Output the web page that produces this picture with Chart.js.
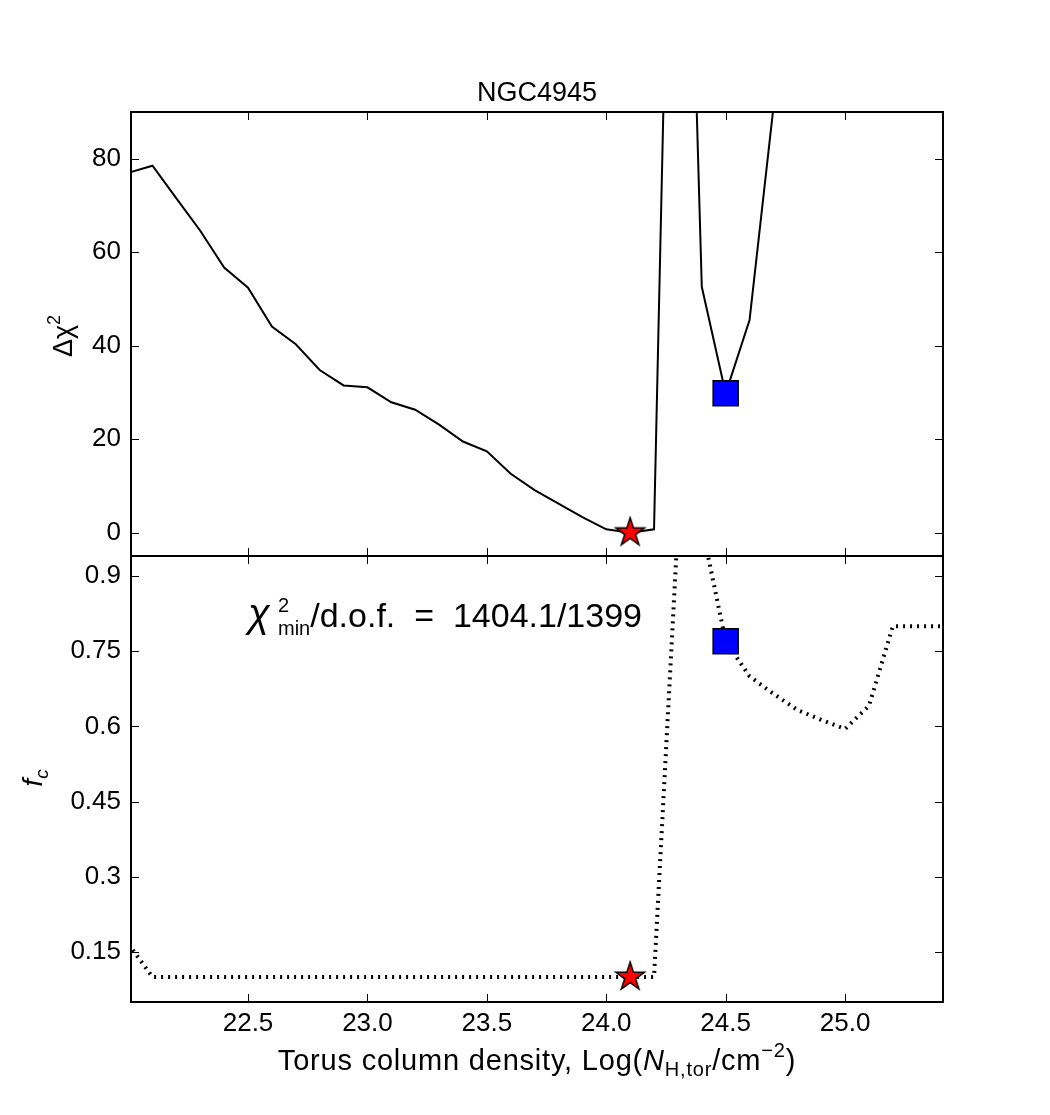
<!DOCTYPE html>
<html><head><meta charset="utf-8">
<script src="https://cdn.jsdelivr.net/npm/chart.js@4.4.1/dist/chart.umd.min.js"></script>
<style>
html,body{margin:0;padding:0;background:#fff;width:1050px;height:1115px;overflow:hidden;}
canvas{position:absolute;left:0;}
#c1{top:0;}
#c2{top:540px;}
</style></head><body>
<canvas id="c1" width="1050" height="557"></canvas>
<canvas id="c2" width="1050" height="575"></canvas>
<script>
// ---------------- data ----------------
const logNH = [22.0,22.1,22.2,22.3,22.4,22.5,22.6,22.7,22.8,22.9,23.0,23.1,23.2,23.3,23.4,23.5,23.6,23.7,23.8,23.9,24.0,24.1,24.2,24.3,24.4,24.5,24.6,24.7,24.8,24.9,25.0,25.1,25.2,25.3,25.4];
const deltaChi2 = [77.0,78.5,71.5,64.6,56.7,52.4,44.1,40.3,34.8,31.5,31.1,27.9,26.3,23.1,19.5,17.4,12.6,9.1,6.2,3.3,0.7,0.0,0.7,230,52.6,29.8,45.5,91,null,null,null,null,null,null,null];
const coveringFactor = [0.165,0.1,0.1,0.1,0.1,0.1,0.1,0.1,0.1,0.1,0.1,0.1,0.1,0.1,0.1,0.1,0.1,0.1,0.1,0.1,0.1,0.1,0.1,1.0,1.0,0.77,0.70,0.665,0.633,0.613,0.595,0.641,0.80,0.80,0.80];
const bestLogNH = [24.1];
const bestDeltaChi2 = [0];
const bestFc = [0.1];
const altLogNH = [24.5];
const altDeltaChi2 = [29.8];
const altFc = [0.77];
const xTicks = [22.5,23.0,23.5,24.0,24.5,25.0];
const chiTicks = [0,20,40,60,80];
const fcTicks = [0.15,0.3,0.45,0.6,0.75,0.9];
const fcTickLabels = ['0.15','0.3','0.45','0.6','0.75','0.9'];
const xRange = [22.01,25.41];
const chiRange = [-5,90];
const fcRange = [0.05,0.94];
const titleText = 'NGC4945';

// ---------------- helpers ----------------
const FONT = '"Liberation Sans", Arial, sans-serif';
Chart.defaults.font.family = FONT;
Chart.defaults.color = '#000';

function fontStr(p){ return (p.italic?'italic ':'') + p.size + 'px ' + FONT; }
function partWidth(ctx,p){
  if (p.w) return p.w;
  ctx.font = fontStr(p);
  if (p.sup !== undefined) return Math.max(ctx.measureText(p.sup).width, ctx.measureText(p.sub).width);
  return ctx.measureText(p.t).width;
}
function drawParts(ctx, parts, x, y, align, spacing){
  ctx.letterSpacing = (spacing||0) + 'px';
  const ws = parts.map(p=>partWidth(ctx,p));
  const total = ws.reduce((a,b)=>a+b,0);
  let cx = align==='center' ? x-total/2 : x;
  ctx.textAlign='left'; ctx.textBaseline='alphabetic'; ctx.fillStyle='#000';
  parts.forEach((p,i)=>{
    ctx.font = fontStr(p);
    if (p.sup !== undefined){ ctx.fillText(p.sup,cx,y+p.supDy); ctx.fillText(p.sub,cx,y+p.subDy); }
    else ctx.fillText(p.t,cx,y+(p.dy||0));
    cx += ws[i];
  });
  ctx.letterSpacing = '0px';
}

function makeStar(R){
  const s = Math.ceil(R*2+4);
  const c = document.createElement('canvas'); c.width=s; c.height=s;
  const g = c.getContext('2d');
  const cx=s/2, cy=s/2, r=R*0.382;
  g.beginPath();
  for (let i=0;i<10;i++){
    const rr = i%2===0 ? R : r;
    const a = -Math.PI/2 + i*Math.PI/5;
    const px = cx + rr*Math.cos(a), py = cy + rr*Math.sin(a);
    if (i===0) g.moveTo(px,py); else g.lineTo(px,py);
  }
  g.closePath();
  g.fillStyle='#ff0000'; g.fill();
  g.lineWidth=1.5; g.strokeStyle='#000'; g.lineJoin='miter'; g.stroke();
  return c;
}
const starImg = makeStar(15);

const framePlugin = {
  id:'frame',
  afterDatasetsDraw(chart){
    const {ctx, chartArea:a, scales} = chart;
    ctx.save();
    ctx.strokeStyle='#000'; ctx.lineWidth=1;
    const tl=8;
    const seg=(x1,y1,x2,y2)=>{ctx.beginPath();ctx.moveTo(x1,y1);ctx.lineTo(x2,y2);ctx.stroke();};
    scales.x.ticks.forEach(t=>{
      const px = Math.round(scales.x.getPixelForValue(t.value))+0.5;
      seg(px,a.bottom,px,a.bottom-tl); seg(px,a.top,px,a.top+tl);
    });
    scales.y.ticks.forEach(t=>{
      const py = Math.round(scales.y.getPixelForValue(t.value))+0.5;
      seg(a.left,py,a.left+tl,py); seg(a.right,py,a.right-tl,py);
    });
    ctx.lineWidth=2;
    ctx.strokeRect(a.left,a.top,a.right-a.left,a.bottom-a.top);
    ctx.restore();
  }
};

function pts(xs, ys){ return xs.map((x,i)=>({x:x, y:ys[i]})); }
function noPad(s){ s.paddingTop=0; s.paddingBottom=0; s.paddingLeft=0; s.paddingRight=0; }

function xScale(showLabels){
  return {
    type:'linear', min:xRange[0], max:xRange[1],
    afterBuildTicks:s=>{ s.ticks = xTicks.map(v=>({value:v})); },
    grid:{display:false, drawTicks:false}, border:{display:false},
    ticks:{display:showLabels, padding:6, font:{size:26}, maxRotation:0, autoSkip:false,
           callback:v=>Number(v).toFixed(1)},
    afterFit:s=>{ s.height = showLabels ? 113 : 0; noPad(s); }
  };
}

// ---------------- top chart ----------------
new Chart(document.getElementById('c1'), {
  type:'scatter',
  data:{datasets:[
    {data:pts(bestLogNH,bestDeltaChi2), pointStyle:starImg, pointRadius:15, order:0, clip:false},
    {data:pts(altLogNH,altDeltaChi2), pointStyle:'rect', pointRadius:17.7, backgroundColor:'#0000ff', borderColor:'#000', borderWidth:1.5, order:0, clip:false},
    {data:pts(logNH,deltaChi2), showLine:true, pointRadius:0, borderColor:'#000', borderWidth:2, tension:0, order:1, spanGaps:false}
  ]},
  options:{
    responsive:false, animation:false, devicePixelRatio:1,
    layout:{autoPadding:false, padding:{top:112,right:107,bottom:1,left:0}},
    plugins:{legend:{display:false}, tooltip:{enabled:false}},
    scales:{
      x:xScale(false),
      y:{type:'linear', min:chiRange[0], max:chiRange[1],
         afterBuildTicks:s=>{ s.ticks = chiTicks.map(v=>({value:v})); },
         grid:{display:false, drawTicks:false}, border:{display:false},
         ticks:{padding:10, font:{size:26}, callback:v=>String(v)},
         afterFit:s=>{ s.width=131; noPad(s); }}
    }
  },
  plugins:[framePlugin, {
    id:'labels1',
    afterDraw(chart){
      const ctx=chart.ctx, a=chart.chartArea;
      ctx.save();
      drawParts(ctx,[{t:titleText,size:27}], (a.left+a.right)/2, 101, 'center');
      ctx.translate(72, 336); ctx.rotate(-Math.PI/2);
      drawParts(ctx,[{t:'Δχ',size:27},{t:'2',size:18,dy:-12}], 0, 0, 'center');
      ctx.restore();
    }
  }]
});

// ---------------- bottom chart ----------------
new Chart(document.getElementById('c2'), {
  type:'scatter',
  data:{datasets:[
    {data:pts(bestLogNH,bestFc), pointStyle:starImg, pointRadius:15, order:0, clip:false},
    {data:pts(altLogNH,altFc), pointStyle:'rect', pointRadius:17.7, backgroundColor:'#0000ff', borderColor:'#000', borderWidth:1.5, order:0, clip:false},
    {data:pts(logNH,coveringFactor), showLine:true, pointRadius:0, borderColor:'#000', borderWidth:4, borderDash:[2,5], borderCapStyle:'butt', tension:0, order:1}
  ]},
  options:{
    responsive:false, animation:false, devicePixelRatio:1,
    layout:{autoPadding:false, padding:{top:16,right:107,bottom:0,left:0}},
    plugins:{legend:{display:false}, tooltip:{enabled:false}},
    scales:{
      x:xScale(true),
      y:{type:'linear', min:fcRange[0], max:fcRange[1],
         afterBuildTicks:s=>{ s.ticks = fcTicks.map(v=>({value:v})); },
         grid:{display:false, drawTicks:false}, border:{display:false},
         ticks:{padding:10, font:{size:26}, callback:(v)=>{ const i=fcTicks.findIndex(t=>Math.abs(t-v)<1e-9); return i>=0?fcTickLabels[i]:''; }},
         afterFit:s=>{ s.width=131; noPad(s); }}
    }
  },
  plugins:[framePlugin, {
    id:'labels2',
    afterDraw(chart){
      const ctx=chart.ctx, a=chart.chartArea;
      ctx.save();
      // annotation
      drawParts(ctx,[
        {t:'χ',size:40,italic:true,w:30},
        {sup:'2',sub:'min',size:20,supDy:-15,subDy:8},
        {t:'/d.o.f.  =  1404.1/1399',size:34}
      ], a.left+117, a.top+71, 'left');
      // x axis title
      drawParts(ctx,[
        {t:'Torus column density, Log(',size:29},
        {t:'N',size:29,italic:true},
        {t:'H,tor',size:20,dy:6},
        {t:'/cm',size:29},
        {t:'−2',size:20,dy:-13},
        {t:')',size:29}
      ], (a.left+a.right)/2, 530, 'center', 0.8);
      // y axis title
      ctx.translate(42, 238); ctx.rotate(-Math.PI/2);
      drawParts(ctx,[{t:'f',size:28,italic:true},{t:'c',size:19,italic:true,dy:6}], 0, 0, 'center');
      ctx.restore();
    }
  }]
});
</script>
</body></html>
